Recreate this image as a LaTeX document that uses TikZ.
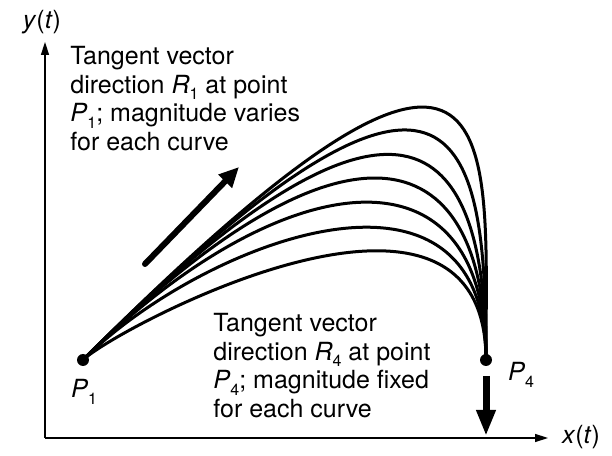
\documentclass[tikz,border=0pt]{standalone}
\usepackage{fontspec}
\setmainfont{TeX Gyre Heros}
\usetikzlibrary{arrows.meta,positioning}
\newcommand\lowidx[1]{\raisebox{-0.5ex}{\footnotesize #1}}

\begin{document}
\begin{tikzpicture}[x=0.5pt, y=0.5pt,
    font=\fontsize{12.5}{14.25}\selectfont,
    axis/.style={line width=0.75pt, -{Triangle[length=6.5pt,width=4pt]}},
    curve/.style={line width=1.5pt},
    dot/.style={circle, fill, inner sep=0pt, minimum size=6pt},
    note/.style={align=left, inner sep=0pt, anchor=north west}]
  \useasboundingbox (0,0) rectangle (612,456);
  %% Axes
  \coordinate (O) at (45,18);
  \coordinate (ytop) at (45,414);
  \coordinate (xend) at (548,18);
  \draw[axis] (O) -- (ytop);
  \draw[axis] (O) -- (xend);
  \node (ylab) at (42,434) {\textit{y}(\textit{t})};
  \node (xlab) at (581,19) {\textit{x}(\textit{t})};
  %% End points
  \node[dot] (P1) at (83,96) {};
  \node[dot] (P4) at (486,96) {};
  \node (P1lab) at (84,64) {\textit{P}\lowidx{1}};
  \node (P4lab) at (521,81) {\textit{P}\lowidx{4}};
  %% Curves
  \foreach \a in {30,115,190,255,315,375,430}{
    \draw[curve] (P1.center) .. controls +(\a,\a) and +(0,230) .. (P4.center);
  }
  %% Tangent vectors
  \coordinate (r1tail) at (145,192);
  \coordinate (r1tip) at (239,289);
  \draw[line width=3pt, line cap=round, -{Triangle[length=10pt,width=9pt]}]
    (r1tail) -- (r1tip);
  \coordinate (r4tail) at (486,80);
  \coordinate (r4tip) at (486,20);
  \draw[line width=3.5pt, -{Triangle[length=13pt,width=9pt]}]
    (r4tail) -- (r4tip);
  %% Notes
  \node[note] (noteR1) at (70,410)
    {Tangent vector\\direction \textit{R}\lowidx{1} at point\\
     \textit{P}\lowidx{1}; magnitude varies\\for each curve};
  \node[note] (noteR4) at (213,143)
    {Tangent vector\\direction \textit{R}\lowidx{4} at point\\
     \textit{P}\lowidx{4}; magnitude fixed\\for each curve};
\end{tikzpicture}
\end{document}
